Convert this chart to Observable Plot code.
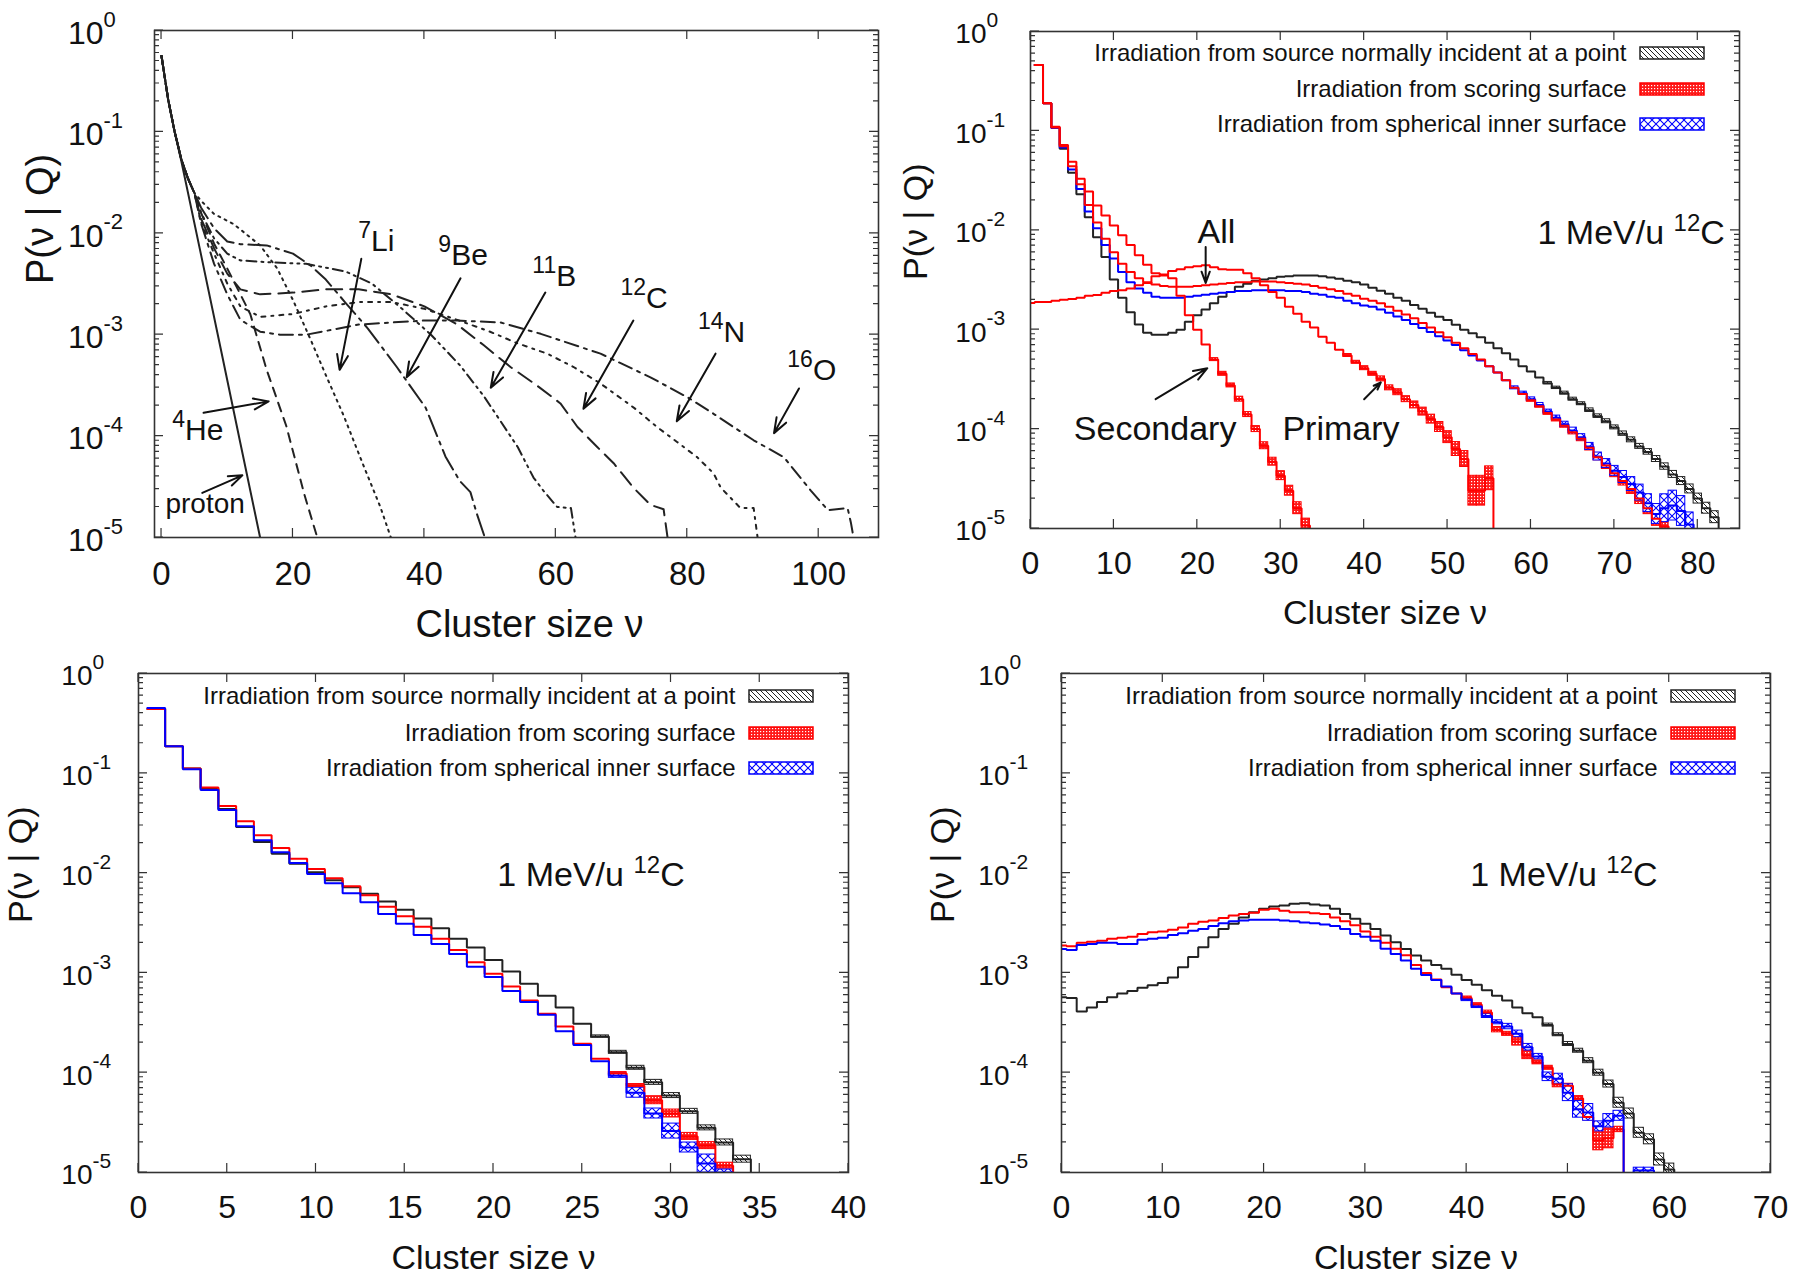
<!DOCTYPE html>
<html><head><meta charset="utf-8">
<script src="https://cdn.jsdelivr.net/npm/d3@7"></script>
<script src="https://cdn.jsdelivr.net/npm/@observablehq/plot@0.6"></script>
<style>
body{margin:0;background:#fff;}
#wrap{position:relative;width:1800px;height:1280px;overflow:hidden;background:#fff;}
.panel{position:absolute;width:900px;height:640px;}
</style></head><body>
<svg width="0" height="0" style="position:absolute;left:0;top:0">
 <defs>
  <pattern id="patBlack" patternUnits="userSpaceOnUse" width="5" height="5">
   <rect width="5" height="5" fill="#fff"/>
   <path d="M0,0L5,5M-1,4L1,6M4,-1L6,1" stroke="#222" stroke-width="1"/>
  </pattern>
  <pattern id="patRed" patternUnits="userSpaceOnUse" width="3" height="3">
   <rect width="3" height="3" fill="#ff1a1a"/>
   <rect x="1" y="1" width="1.2" height="1.2" fill="#fff"/>
  </pattern>
  <pattern id="patBlue" patternUnits="userSpaceOnUse" width="8" height="8">
   <rect width="8" height="8" fill="#fff"/>
   <path d="M0,0L8,8M8,0L0,8" stroke="#0000ff" stroke-width="1.1"/>
  </pattern>
 </defs>
</svg>
<div id="wrap"></div>
<script>
const FONT = '"Liberation Sans", Arial, Helvetica, sans-serif';

// ---------------- shared ----------------
const yDecades = [1, 1e-1, 1e-2, 1e-3, 1e-4, 1e-5];
const xTitle = "Cluster size ν";
const yTitle = "P(ν | Q)";
const legendLabels = [
  "Irradiation from source normally incident at a point",
  "Irradiation from scoring surface",
  "Irradiation from spherical inner surface"
];

// ---------------- Panel 1 (ions) : [nu, P] ----------------
const p1Ions = ["proton", "4He", "7Li", "9Be", "11B", "12C", "14N", "16O"];
const p1Proton = [[0,0.56],[1,0.21],[2,0.10],[3,0.052],[6,6.2e-3],[9,7.3e-4],[12,8.5e-5],[15,1.0e-5],[15.6,6e-6]];
const p1He4 = [[0,0.56],[1,0.21],[2,0.10],[3,0.054],[4,0.035],[5,0.025],[6,0.016],[8,7.9e-3],[10,4.5e-3],[12,2.5e-3],[13.5,1.6e-3],[16,4.5e-4],[19,1.25e-4],[21.7,2.7e-5],[23.7,1.0e-5],[24.3,5e-6]];
const p1Li7 = [[0,0.56],[1,0.21],[2,0.10],[3,0.054],[4,0.035],[5,0.025],[6,0.021],[8,0.0155],[11,0.0123],[15,7.6e-3],[17.6,4.5e-3],[20,2.2e-3],[22.7,8.9e-4],[25,4.0e-4],[27.7,1.6e-4],[30.8,5.0e-5],[33.3,2.0e-5],[34.9,1.0e-5],[35.5,5e-6]];
const p1Be9 = [[0,0.56],[1,0.21],[2,0.10],[3,0.054],[4,0.035],[5,0.025],[6,0.018],[8,0.0112],[10,8.3e-3],[12,7.8e-3],[16,7.6e-3],[20,6.3e-3],[22.7,4.8e-3],[25,3.5e-3],[27.9,2.1e-3],[31.4,1.15e-3],[35.8,4.8e-4],[40.2,1.9e-4],[43.2,6.3e-5],[45.4,3.6e-5],[47,2.8e-5],[48,1.7e-5],[49.2,1.0e-5],[49.7,5e-6]];
const p1B11 = [[0,0.56],[1,0.21],[2,0.10],[3,0.054],[4,0.035],[5,0.025],[6,0.016],[8,8.9e-3],[10,6.3e-3],[12,5.4e-3],[16,5.2e-3],[22,5.0e-3],[28,4.2e-3],[32,3.2e-3],[36.6,1.8e-3],[41,1.0e-3],[45.4,5.0e-4],[49,2.5e-4],[51.6,1.4e-4],[54.2,7.8e-5],[56.6,3.9e-5],[58.1,2.9e-5],[60.2,2.0e-5],[62.3,1.95e-5],[63,1.0e-5],[63.4,5e-6]];
const p1C12 = [[0,0.56],[1,0.21],[2,0.10],[3,0.054],[4,0.035],[5,0.025],[6,0.014],[8,7.1e-3],[10,4.0e-3],[12,2.8e-3],[15,2.5e-3],[20,2.6e-3],[25,2.8e-3],[30,2.8e-3],[35,2.5e-3],[40,1.9e-3],[45,1.26e-3],[49,7.9e-4],[53.1,4.8e-4],[57,3.2e-4],[60.7,2.1e-4],[63.3,1.23e-4],[66.3,7.8e-5],[68.8,5.4e-5],[71.8,3.1e-5],[74.4,2.1e-5],[76.4,1.9e-5],[77,1.0e-5],[77.4,5e-6]];
const p1N14 = [[0,0.56],[1,0.21],[2,0.10],[3,0.054],[4,0.035],[5,0.025],[6,0.013],[8,6.3e-3],[10,3.2e-3],[12,1.9e-3],[15,1.5e-3],[20,1.6e-3],[25,1.9e-3],[30,2.1e-3],[35,2.1e-3],[40,1.8e-3],[45,1.4e-3],[50,1.07e-3],[54,8.3e-4],[58.7,6.5e-4],[62.7,4.8e-4],[66.8,3.3e-4],[71.9,1.9e-4],[75.4,1.23e-4],[78.5,8.7e-5],[81.5,6.2e-5],[84,4.3e-5],[85.1,3.1e-5],[88.1,1.95e-5],[90.1,1.95e-5],[90.7,1.0e-5],[91.1,5e-6]];
const p1O16 = [[0,0.56],[1,0.21],[2,0.10],[3,0.054],[4,0.035],[5,0.025],[6,0.0126],[8,5.0e-3],[10,2.5e-3],[12,1.4e-3],[15,1.07e-3],[18,1.0e-3],[22,1.0e-3],[26,1.12e-3],[30,1.26e-3],[35,1.32e-3],[40,1.38e-3],[45,1.38e-3],[51.6,1.32e-3],[57.7,1.02e-3],[66.8,6.5e-4],[74.4,3.8e-4],[80.1,2.4e-4],[84,1.66e-4],[90.1,9.1e-5],[94.7,6.2e-5],[98.8,2.9e-5],[101.4,1.86e-5],[104.4,1.95e-5],[104.9,1.4e-5],[105.3,1.0e-5],[105.7,5e-6]];
const p1Labels = [
  {nu: 30.0, p: 6.6e-3, sup: "7", main: "Li"},
  {nu: 42.2, p: 4.8e-3, sup: "9", main: "Be"},
  {nu: 56.5, p: 3.0e-3, sup: "11", main: "B"},
  {nu: 69.9, p: 1.8e-3, sup: "12", main: "C"},
  {nu: 81.7, p: 8.3e-4, sup: "14", main: "N"},
  {nu: 95.3, p: 3.5e-4, sup: "16", main: "O"},
  {nu: 1.7, p: 9.1e-5, sup: "4", main: "He"}
];
const p1ProtonLabel = [{nu: 0.6, p: 1.74e-5, text: "proton"}];
const p1Arrows = [
  {x1:30.4,y1:5.6e-3,x2:27.1,y2:4.5e-4},
  {x1:45.5,y1:3.6e-3,x2:37.3,y2:3.8e-4},
  {x1:58.4,y1:2.6e-3,x2:50.1,y2:3.0e-4},
  {x1:71.8,y1:1.38e-3,x2:64.2,y2:1.86e-4},
  {x1:84.3,y1:6.5e-4,x2:78.4,y2:1.4e-4},
  {x1:97.0,y1:2.95e-4,x2:93.2,y2:1.07e-4},
  {x1:6.4,y1:1.7e-4,x2:16.3,y2:2.2e-4},
  {x1:6.2,y1:2.75e-5,x2:12.3,y2:4.1e-5}
];

// ---------------- Panel 2 (1 MeV/u 12C, all/primary/secondary) ----------------
const p2BlackStart = 1;
const p2Black = [0.46,0.19,0.107,0.066,0.038,0.023,0.0135,8.5e-3,5.4e-3,3.2e-3,
 2.1e-3,1.5e-3,1.13e-3,9.3e-4,8.9e-4,8.9e-4,9.3e-4,1.0e-3,1.2e-3,1.4e-3,
 1.6e-3,1.85e-3,2.15e-3,2.4e-3,2.7e-3,2.9e-3,3.1e-3,3.2e-3,3.3e-3,3.4e-3,
 3.45e-3,3.5e-3,3.5e-3,3.5e-3,3.45e-3,3.35e-3,3.25e-3,3.1e-3,3.0e-3,2.85e-3,
 2.65e-3,2.46e-3,2.3e-3,2.1e-3,1.95e-3,1.77e-3,1.62e-3,1.48e-3,1.35e-3,1.25e-3,
 1.12e-3,1.0e-3,9.2e-4,8.4e-4,7.4e-4,6.5e-4,5.8e-4,5.0e-4,4.3e-4,3.8e-4,
 3.3e-4,2.9e-4,2.6e-4,2.3e-4,2.0e-4,1.8e-4,1.55e-4,1.35e-4,1.2e-4,1.04e-4,
 9.0e-5,7.8e-5,6.7e-5,5.9e-5,5.0e-5,4.2e-5,3.5e-5,3.0e-5,2.5e-5,2.0e-5,
 1.6e-5,1.3e-5];
const p2RedStart = 1;
const p2Red = [0.46,0.19,0.108,0.07,0.044,0.029,0.018,0.012,8.2e-3,6.0e-3,
 4.6e-3,3.8e-3,3.3e-3,3.0e-3,2.85e-3,2.75e-3,2.7e-3,2.7e-3,2.7e-3,2.75e-3,
 2.8e-3,2.85e-3,2.9e-3,2.95e-3,3.0e-3,3.0e-3,3.05e-3,3.05e-3,3.05e-3,3.0e-3,
 2.95e-3,2.9e-3,2.85e-3,2.75e-3,2.65e-3,2.55e-3,2.45e-3,2.3e-3,2.2e-3,2.05e-3,
 1.95e-3,1.85e-3,1.7e-3,1.55e-3,1.42e-3,1.3e-3,1.17e-3,1.05e-3,9.4e-4,8.4e-4,
 7.4e-4,6.5e-4,5.7e-4,5.0e-4,4.3e-4,3.7e-4,3.1e-4,2.6e-4,2.25e-4,1.95e-4,
 1.7e-4,1.45e-4,1.25e-4,1.08e-4,9.3e-5,8.0e-5,6.5e-5,5.2e-5,4.3e-5,3.6e-5,
 3.0e-5,2.5e-5,2.0e-5,1.6e-5,1.25e-5,1.05e-5];
const p2BlueStart = 1;
const p2Blue = [0.46,0.19,0.107,0.068,0.041,0.026,0.0155,0.0105,7.1e-3,5.2e-3,
 3.8e-3,3.0e-3,2.6e-3,2.35e-3,2.15e-3,2.1e-3,2.1e-3,2.1e-3,2.15e-3,2.2e-3,
 2.25e-3,2.3e-3,2.35e-3,2.4e-3,2.45e-3,2.45e-3,2.5e-3,2.5e-3,2.5e-3,2.5e-3,
 2.45e-3,2.45e-3,2.4e-3,2.3e-3,2.25e-3,2.15e-3,2.1e-3,1.95e-3,1.85e-3,1.75e-3,
 1.7e-3,1.6e-3,1.48e-3,1.36e-3,1.25e-3,1.14e-3,1.04e-3,9.5e-4,8.6e-4,7.8e-4,
 7.0e-4,6.2e-4,5.5e-4,4.9e-4,4.3e-4,3.7e-4,3.1e-4,2.6e-4,2.3e-4,2.0e-4,
 1.75e-4,1.5e-4,1.3e-4,1.12e-4,9.7e-5,8.3e-5,6.7e-5,5.3e-5,4.5e-5,3.8e-5,
 3.3e-5,2.8e-5,2.3e-5,1.8e-5,1.4e-5,1.6e-5,1.7e-5,1.5e-5,1.1e-5];
const p2SecondaryStart = 1;
const p2Secondary = [0.46,0.19,0.11,0.072,0.049,0.033,0.0245,0.0178,0.0141,0.0112,
 8.9e-3,7.1e-3,5.6e-3,4.5e-3,3.7e-3,3.5e-3,3.3e-3,2.2e-3,1.4e-3,1.0e-3,
 7.1e-4,5.0e-4,3.6e-4,2.75e-4,2.0e-4,1.4e-4,1.0e-4,6.8e-5,4.7e-5,3.4e-5,
 2.4e-5,1.6e-5,1.07e-5];
const p2PrimaryStart = 0;
const p2Primary = [1.86e-3,1.9e-3,1.9e-3,1.95e-3,2.0e-3,2.04e-3,2.1e-3,2.2e-3,2.24e-3,2.35e-3,
 2.45e-3,2.5e-3,2.6e-3,2.8e-3,2.95e-3,3.45e-3,3.6e-3,3.9e-3,4.05e-3,4.25e-3,
 4.35e-3,4.45e-3,4.25e-3,4.05e-3,4.0e-3,4.0e-3,3.7e-3,3.3e-3,2.8e-3,2.4e-3,
 2.1e-3,1.7e-3,1.45e-3,1.2e-3,1.05e-3,8.5e-4,7.4e-4,6.3e-4,5.5e-4,4.7e-4,
 4.1e-4,3.6e-4,3.2e-4,2.6e-4,2.35e-4,2.0e-4,1.75e-4,1.5e-4,1.26e-4,1.05e-4,
 8.3e-5,6.3e-5,5.0e-5,2.4e-5,2.4e-5,3.2e-5];
// band half-widths (decades) for the visible hatched uncertainty bands
const p2BlackBandStart = 62;
const p2BlackBand = [0.012,0.012,0.015,0.015,0.015,0.018,0.018,0.02,0.02,0.022,0.025,0.025,0.028,0.03,0.032,0.035,0.04,0.045,0.05,0.055,0.06];
const p2RedBandStart = 60;
const p2RedBand = [0.015,0.015,0.018,0.02,0.02,0.022,0.025,0.028,0.03,0.035,0.04,0.045,0.05,0.055,0.06,0.07,0.08];
const p2BlueBandStart = 58;
const p2BlueBand = [0.015,0.015,0.018,0.02,0.02,0.022,0.025,0.028,0.03,0.035,0.04,0.045,0.05,0.06,0.07,0.08,0.09,0.1,0.14,0.15,0.15,0.12];
const p2SecondaryBandStart = 22;
const p2SecondaryBand = [0.015,0.02,0.02,0.025,0.025,0.03,0.035,0.04,0.045,0.05,0.06,0.07];
const p2PrimaryBandStart = 38;
const p2PrimaryBand = [0.015,0.015,0.02,0.02,0.025,0.025,0.03,0.03,0.035,0.04,0.045,0.05,0.06,0.07,0.08,0.15,0.15,0.12];
const p2Texts = [
  {nu: 22.3, p: 7.5e-3, text: "All", anchor: "middle"},
  {nu: 5.2, p: 7.7e-5, text: "Secondary", anchor: "start"},
  {nu: 30.2, p: 7.7e-5, text: "Primary", anchor: "start"}
];
const p2Arrows = [
  {x1:21.0,y1:6.8e-3,x2:21.0,y2:2.95e-3},
  {x1:15.0,y1:2.0e-4,x2:21.2,y2:4.1e-4},
  {x1:40.0,y1:2.0e-4,x2:42.0,y2:2.95e-4}
];
const ionTag = {pre: "1 MeV/u ", sup: "12", post: "C"};
const p2Tag = {nu: 83.3, p: 7.2e-3};

// ---------------- Panel 3 ----------------
const p3BlackStart = 1;
const p3Black = [0.44,0.187,0.112,0.070,0.044,0.029,0.0205,0.0156,0.0124,0.0102,
 8.5e-3,7.2e-3,6.2e-3,5.2e-3,4.3e-3,3.5e-3,2.8e-3,2.2e-3,1.8e-3,1.35e-3,
 1.03e-3,7.8e-4,5.9e-4,4.5e-4,3.1e-4,2.3e-4,1.6e-4,1.12e-4,8.0e-5,5.9e-5,
 4.1e-5,2.8e-5,2.0e-5,1.36e-5];
const p3RedStart = 1;
const p3Red = [0.44,0.187,0.112,0.072,0.047,0.033,0.024,0.0178,0.0139,0.011,
 8.9e-3,7.4e-3,6.0e-3,4.6e-3,3.7e-3,2.9e-3,2.2e-3,1.7e-3,1.28e-3,9.8e-4,
 7.3e-4,5.3e-4,3.9e-4,2.9e-4,1.95e-4,1.38e-4,9.8e-5,7.4e-5,5.3e-5,3.9e-5,
 2.3e-5,1.86e-5,1.17e-5];
const p3BlueStart = 1;
const p3Blue = [0.45,0.187,0.11,0.068,0.043,0.0295,0.0213,0.0162,0.0126,9.8e-3,
 7.9e-3,6.3e-3,5.1e-3,3.9e-3,3.1e-3,2.4e-3,1.95e-3,1.55e-3,1.15e-3,9.1e-4,
 6.6e-4,5.1e-4,3.8e-4,2.6e-4,1.9e-4,1.3e-4,9.3e-5,6.3e-5,3.9e-5,2.6e-5,
 1.78e-5,1.23e-5,1.0e-5];
const p3BlackBandStart = 26;
const p3BlackBand = [0.012,0.015,0.02,0.025,0.025,0.025,0.025,0.03,0.035];
const p3RedBandStart = 27;
const p3RedBand = [0.015,0.017,0.04,0.04,0.035,0.035,0.03];
const p3BlueBandStart = 27;
const p3BlueBand = [0.02,0.05,0.05,0.075,0.05,0.09,0.03];
const p3Tag = {nu: 30.8, p: 7.4e-3};

// ---------------- Panel 4 ----------------
const p4BlackStart = 0;
const p4Black = [5.7e-4,5.6e-4,4.1e-4,4.5e-4,5.1e-4,5.7e-4,6.2e-4,6.6e-4,7.1e-4,7.5e-4,
 7.9e-4,9.0e-4,1.14e-3,1.44e-3,1.81e-3,2.28e-3,2.76e-3,3.1e-3,3.6e-3,4.06e-3,
 4.39e-3,4.63e-3,4.74e-3,4.92e-3,5.0e-3,4.85e-3,4.74e-3,4.39e-3,3.9e-3,3.48e-3,
 3.1e-3,2.76e-3,2.37e-3,2.03e-3,1.74e-3,1.49e-3,1.33e-3,1.2e-3,1.1e-3,9.6e-4,
 8.5e-4,7.6e-4,6.7e-4,5.9e-4,5.3e-4,4.5e-4,3.95e-4,3.6e-4,3.0e-4,2.4e-4,
 1.94e-4,1.66e-4,1.32e-4,1.0e-4,7.7e-5,5.0e-5,3.9e-5,2.5e-5,2.15e-5,1.35e-5,
 1.07e-5];
const p4RedStart = 0;
const p4Red = [1.88e-3,1.85e-3,2.0e-3,2.05e-3,2.1e-3,2.2e-3,2.25e-3,2.3e-3,2.45e-3,2.55e-3,
 2.6e-3,2.7e-3,2.85e-3,3.1e-3,3.25e-3,3.35e-3,3.55e-3,3.75e-3,3.9e-3,4.0e-3,
 4.3e-3,4.4e-3,4.2e-3,4.05e-3,4.05e-3,3.95e-3,3.9e-3,3.6e-3,3.3e-3,3.0e-3,
 2.6e-3,2.3e-3,2.0e-3,1.75e-3,1.5e-3,1.2e-3,1.0e-3,8.6e-4,7.2e-4,6.2e-4,
 5.6e-4,4.8e-4,4.0e-4,2.7e-4,2.45e-4,2.05e-4,1.5e-4,1.27e-4,1.12e-4,7.6e-5,
 7.4e-5,5.5e-5,3.6e-5,2.1e-5,2.2e-5,2.7e-5];
const p4BlueStart = 0;
const p4Blue = [1.74e-3,1.7e-3,1.9e-3,1.95e-3,2.0e-3,2.0e-3,1.95e-3,1.95e-3,2.15e-3,2.2e-3,
 2.25e-3,2.4e-3,2.5e-3,2.65e-3,2.75e-3,2.95e-3,3.15e-3,3.3e-3,3.35e-3,3.4e-3,
 3.4e-3,3.4e-3,3.35e-3,3.3e-3,3.2e-3,3.15e-3,3.05e-3,2.95e-3,2.75e-3,2.45e-3,
 2.3e-3,2.1e-3,1.75e-3,1.55e-3,1.33e-3,1.1e-3,9.5e-4,8.5e-4,7.3e-4,6.2e-4,
 5.4e-4,4.6e-4,3.7e-4,3.2e-4,2.9e-4,2.45e-4,1.8e-4,1.45e-4,9.1e-5,8.7e-5,
 6.3e-5,4.3e-5,4.0e-5,2.9e-5,3.3e-5,3.7e-5,0,1.05e-5,1.05e-5];
const p4BlackBandStart = 48;
const p4BlackBand = [0.015,0.015,0.02,0.02,0.025,0.03,0.035,0.05,0.05,0.05,0.05,0.06,0.06];
const p4RedBandStart = 40;
const p4RedBand = [0.015,0.015,0.02,0.027,0.02,0.04,0.04,0.02,0.02,0.027,0.02,0.025,0.033,0.1,0.1,0.027];
const p4BlueBandStart = 40;
const p4BlueBand = [0.015,0.015,0.02,0.02,0.027,0.033,0.033,0.027,0.043,0.05,0.084,0.084,0.084,0.05,0.067,0.05,0,0.027,0.027];
const p4Tag = {nu: 58.9, p: 7.4e-3};

// ---------------- helpers ----------------
const FLOOR = 1e-7;
function stepPoints(start, vals) {
  const pts = [];
  vals.forEach((v, i) => {
    const k = start + i, y = v > 0 ? v : FLOOR;
    pts.push({x: k - 0.5, y}, {x: k + 0.5, y});
  });
  pts.push({x: start + vals.length - 0.5, y: FLOOR});
  return pts;
}
function bandRects(start, vals, bStart, halfs) {
  const out = [];
  halfs.forEach((h, i) => {
    const k = bStart + i, v = vals[k - start];
    if (!(v > 0) || !(h > 0)) return;
    out.push({x1: k - 0.5, x2: k + 0.5, y1: v * 10 ** -h, y2: v * 10 ** h});
  });
  return out;
}
function bandMark(rects, pat, color) {
  return Plot.rect(rects, {x1: "x1", x2: "x2", y1: "y1", y2: "y2", fill: `url(#${pat})`, stroke: color, strokeWidth: 1, clip: true});
}
function stepMark(start, vals, color, w = 2) {
  return Plot.line(stepPoints(start, vals), {x: "x", y: "y", stroke: color, strokeWidth: w, clip: true, strokeLinejoin: "miter"});
}
// gnuplot style inward ticks on all four sides
function gnuTicks(xTicks) {
  return (index, scales, values, dims) => {
    const L = dims.marginLeft, R = dims.width - dims.marginRight, T = dims.marginTop, B = dims.height - dims.marginBottom;
    let d = "";
    for (const t of xTicks) {
      const x = scales.x(t);
      if (x < L - 0.5 || x > R + 0.5) continue;
      d += `M${x},${B}v-9M${x},${T}v9`;
    }
    for (let e = -5; e <= 0; e++) for (let m = 1; m <= 9; m++) {
      const v = m * 10 ** e; if (v > 1.0001) break;
      const y = scales.y(v), len = m === 1 ? 9 : 5;
      d += `M${L},${y}h${len}M${R},${y}h${-len}`;
    }
    const g = d3.create("svg:g");
    g.append("path").attr("d", d).attr("stroke", "#333").attr("stroke-width", 1.2).attr("fill", "none");
    return g.node();
  };
}
// text with a raised (superscript) part, anchored at data coordinates
function supText(items, size, supSize, raise, anchor = "start") {
  return (index, scales) => {
    const g = d3.create("svg:g").attr("font-family", FONT).attr("fill", "#111");
    for (const it of items) {
      const t = g.append("text").attr("x", scales.x(it.nu)).attr("y", scales.y(it.p))
        .attr("text-anchor", anchor).style("white-space", "pre");
      if (it.pre) t.append("tspan").attr("font-size", size).text(it.pre);
      t.append("tspan").attr("font-size", supSize).attr("dy", -raise).text(it.sup);
      t.append("tspan").attr("font-size", size).attr("dy", raise).text(it.main ?? it.post);
    }
    return g.node();
  };
}
function legendMarks(rowDy) {
  const pats = [["patBlack", "#222"], ["patRed", "#ff0000"], ["patBlue", "#0000ff"]];
  const marks = legendLabels.map((lab, i) => Plot.text([lab], {text: d => d, frameAnchor: "top-right", dx: -113, dy: rowDy[i], textAnchor: "end", lineAnchor: "middle", fontSize: 24, fill: "#111"}));
  marks.push((index, scales, values, dims) => {
    const R = dims.width - dims.marginRight, T = dims.marginTop;
    const g = d3.create("svg:g");
    pats.forEach(([p, c], i) => g.append("rect").attr("x", R - 99).attr("y", T + rowDy[i] - 6).attr("width", 64).attr("height", 12)
      .attr("fill", `url(#${p})`).attr("stroke", c).attr("stroke-width", 1.5));
    return g.node();
  });
  return marks;
}
function makePlot(cfg, marks) {
  return Plot.plot({
    width: 900, height: 640,
    marginLeft: cfg.ml, marginRight: cfg.mr, marginTop: cfg.mt, marginBottom: cfg.mb,
    style: {fontFamily: FONT, color: "#111", background: "transparent", overflow: "visible"},
    x: {domain: cfg.xDomain},
    y: {type: "log", domain: [1e-5, 1]},
    marks: [
      ...marks,
      Plot.frame({stroke: "#333", strokeWidth: 1.6}),
      gnuTicks(cfg.xTicks),
      Plot.axisX({ticks: cfg.xTicks, tickSize: 0, tickPadding: cfg.xPad, fontSize: cfg.xFont, label: null, tickFormat: d => String(d)}),
      Plot.axisY({ticks: yDecades, tickSize: 0, tickPadding: cfg.yGap, fontSize: cfg.yFont, label: null, tickFormat: () => "10", dy: 3}),
      Plot.axisY({ticks: yDecades, tickSize: 0, tickPadding: cfg.yGap, fontSize: cfg.expFont, label: null, textAnchor: "start", tickFormat: d => String(Math.round(Math.log10(d))), dy: -11}),
      Plot.text([xTitle], {text: d => d, frameAnchor: "bottom", dx: cfg.xTitleDx || 0, dy: cfg.xTitleDy, lineAnchor: "middle", fontSize: cfg.titleFont}),
      Plot.text([yTitle], {text: d => d, frameAnchor: "left", dx: cfg.yTitleDx, rotate: -90, lineAnchor: "middle", fontSize: cfg.titleFont})
    ]
  });
}
function place(node, left, top) {
  const div = document.createElement("div");
  div.className = "panel"; div.style.left = left + "px"; div.style.top = top + "px";
  div.appendChild(node);
  document.getElementById("wrap").appendChild(div);
}

// ---------------- Panel 1 ----------------
{
  const curves = [p1Proton, p1He4, p1Li7, p1Be9, p1B11, p1C12, p1N14, p1O16];
  const dashes = [null, "9,7", "2,5", "22,6,3,6", "10,5,2,5,2,5", "16,8", "4,6,2,6", "14,6,3,6"];
  const marks = curves.map((c, i) => Plot.line(c, {x: d => d[0], y: d => d[1], stroke: "#222", strokeWidth: 2, clip: true,
    ...(dashes[i] ? {strokeDasharray: dashes[i]} : {})}));
  marks.push(Plot.arrow(p1Arrows, {x1: "x1", y1: "y1", x2: "x2", y2: "y2", stroke: "#111", strokeWidth: 2, headLength: 12, headAngle: 40}));
  marks.push(supText(p1Labels, 30, 23, 13));
  marks.push(Plot.text(p1ProtonLabel, {x: "nu", y: "p", text: "text", textAnchor: "start", lineAnchor: "bottom", fontSize: 28, fill: "#111"}));
  place(makePlot({ml: 154, mr: 22, mt: 30, mb: 103, xDomain: [-1.07, 109.1], xTicks: [0, 20, 40, 60, 80, 100],
    xPad: 24, xFont: 33, yGap: 51, yFont: 32, expFont: 22, titleFont: 38, xTitleDy: 87, xTitleDx: 13, yTitleDx: -114}, marks), 0, 0);
}

// ---------------- Panel 2 ----------------
{
  const marks = [
    bandMark(bandRects(p2BlackStart, p2Black, p2BlackBandStart, p2BlackBand), "patBlack", "#222"),
    bandMark(bandRects(p2RedStart, p2Red, p2RedBandStart, p2RedBand), "patRed", "#ff0000"),
    bandMark(bandRects(p2BlueStart, p2Blue, p2BlueBandStart, p2BlueBand), "patBlue", "#0000ff"),
    bandMark(bandRects(p2SecondaryStart, p2Secondary, p2SecondaryBandStart, p2SecondaryBand), "patRed", "#ff0000"),
    bandMark(bandRects(p2PrimaryStart, p2Primary, p2PrimaryBandStart, p2PrimaryBand), "patRed", "#ff0000"),
    stepMark(p2BlackStart, p2Black, "#222"),
    stepMark(p2BlueStart, p2Blue, "#0000ff"),
    stepMark(p2RedStart, p2Red, "#ff0000"),
    stepMark(p2SecondaryStart, p2Secondary, "#ff0000"),
    stepMark(p2PrimaryStart, p2Primary, "#ff0000"),
    ...legendMarks([22, 58, 93]),
    Plot.arrow(p2Arrows, {x1: "x1", y1: "y1", x2: "x2", y2: "y2", stroke: "#111", strokeWidth: 2, headLength: 11, headAngle: 40}),
    ...p2Texts.map(t => Plot.text([t], {x: "nu", y: "p", text: "text", textAnchor: t.anchor, lineAnchor: "bottom", fontSize: 34, fill: "#111"})),
    supText([{...p2Tag, ...ionTag}], 34, 24, 13, "end")
  ];
  place(makePlot({ml: 130, mr: 61, mt: 31, mb: 112, xDomain: [0, 85], xTicks: [0,10,20,30,40,50,60,70,80],
    xPad: 23, xFont: 32, yGap: 44, yFont: 28, expFont: 21, titleFont: 34, xTitleDy: 85, yTitleDx: -114}, marks), 900, 0);
}

// ---------------- Panel 3 ----------------
{
  const marks = [
    bandMark(bandRects(p3BlackStart, p3Black, p3BlackBandStart, p3BlackBand), "patBlack", "#222"),
    bandMark(bandRects(p3RedStart, p3Red, p3RedBandStart, p3RedBand), "patRed", "#ff0000"),
    bandMark(bandRects(p3BlueStart, p3Blue, p3BlueBandStart, p3BlueBand), "patBlue", "#0000ff"),
    stepMark(p3BlackStart, p3Black, "#222"),
    stepMark(p3RedStart, p3Red, "#ff0000"),
    stepMark(p3BlueStart, p3Blue, "#0000ff"),
    ...legendMarks([23, 60, 95]),
    supText([{...p3Tag, ...ionTag}], 34, 24, 13, "end")
  ];
  place(makePlot({ml: 138, mr: 52, mt: 33, mb: 108, xDomain: [0, 40], xTicks: [0,5,10,15,20,25,30,35,40],
    xPad: 23, xFont: 32, yGap: 46, yFont: 28, expFont: 21, titleFont: 34, xTitleDy: 86, yTitleDx: -117}, marks), 0, 640);
}

// ---------------- Panel 4 ----------------
{
  const marks = [
    bandMark(bandRects(p4BlackStart, p4Black, p4BlackBandStart, p4BlackBand), "patBlack", "#222"),
    bandMark(bandRects(p4RedStart, p4Red, p4RedBandStart, p4RedBand), "patRed", "#ff0000"),
    bandMark(bandRects(p4BlueStart, p4Blue, p4BlueBandStart, p4BlueBand), "patBlue", "#0000ff"),
    stepMark(p4BlackStart, p4Black, "#222"),
    stepMark(p4RedStart, p4Red, "#ff0000"),
    stepMark(p4BlueStart, p4Blue, "#0000ff"),
    ...legendMarks([23, 60, 95]),
    supText([{...p4Tag, ...ionTag}], 34, 24, 13, "end")
  ];
  place(makePlot({ml: 161, mr: 30, mt: 33, mb: 108, xDomain: [0, 70], xTicks: [0,10,20,30,40,50,60,70],
    xPad: 23, xFont: 32, yGap: 52, yFont: 28, expFont: 21, titleFont: 34, xTitleDy: 86, yTitleDx: -118}, marks), 900, 640);
}
</script>
</body></html>
